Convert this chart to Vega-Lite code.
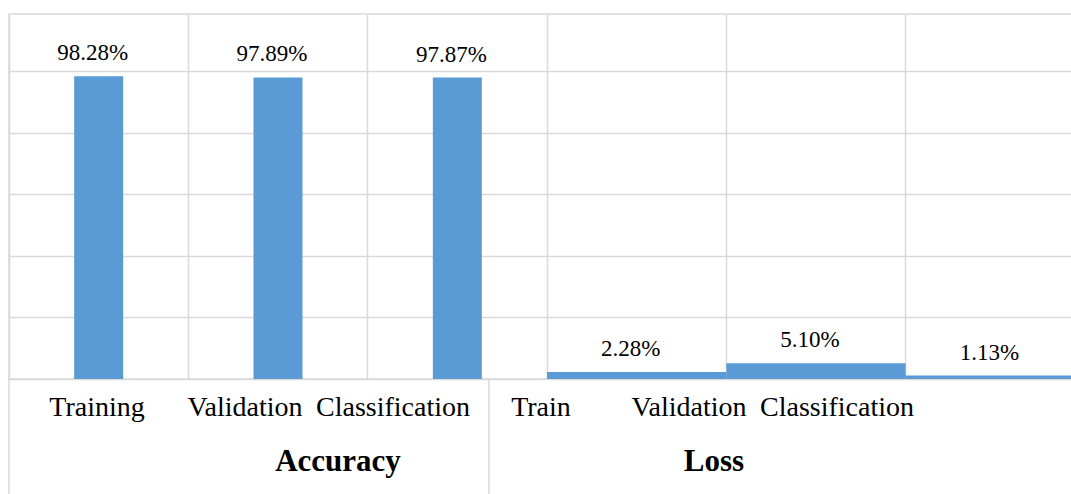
{
  "$schema": "https://vega.github.io/schema/vega-lite/v6.json",
  "background": "white",
  "padding": {"left": 8, "top": 13, "right": 0, "bottom": 0},
  "spacing": 0,
  "bounds": "flush",
  "config": {
    "font": "Liberation Serif",
    "axis": {"gridColor": "#d9d9d9", "gridWidth": 1.5, "domainColor": "#d9d9d9", "domainWidth": 1.5},
    "text": {"color": "#000000", "font": "Liberation Serif"}
  },
  "data": {
    "values": [
      {"group": "Accuracy", "label": "Training", "key": "Accuracy Training", "value": 0.9828},
      {"group": "Accuracy", "label": "Validation", "key": "Accuracy Validation", "value": 0.9789},
      {"group": "Accuracy", "label": "Classification", "key": "Accuracy Classification", "value": 0.9787},
      {"group": "Loss", "label": "Train", "key": "Loss Train", "value": 0.0228},
      {"group": "Loss", "label": "Validation", "key": "Loss Validation", "value": 0.051},
      {"group": "Loss", "label": "Classification", "key": "Loss Classification", "value": 0.0113}
    ]
  },
  "vconcat": [
    {
      "width": 1063,
      "height": 365,
      "view": {"stroke": "#d9d9d9", "strokeWidth": 1.5},
      "encoding": {
        "x": {
          "field": "key",
          "type": "nominal",
          "sort": null,
          "scale": {"range": [0, 1076], "paddingInner": 0, "paddingOuter": 0},
          "axis": {"title": null, "labels": false, "ticks": false, "grid": true, "bandPosition": 0, "domain": true}
        },
        "y": {
          "field": "value",
          "type": "quantitative",
          "scale": {"domain": [0, 1.185], "nice": false},
          "axis": {"title": null, "labels": false, "ticks": false, "domain": false, "grid": true, "values": [0.2, 0.4, 0.6, 0.8, 1.0]}
        }
      },
      "layer": [
        {
          "transform": [{"filter": "datum.group === 'Accuracy'"}],
          "mark": {"type": "bar", "width": 49, "color": "#5b9bd5"}
        },
        {
          "transform": [{"filter": "datum.group === 'Loss'"}],
          "mark": {"type": "bar", "width": {"band": 1}, "color": "#5b9bd5"}
        },
        {
          "mark": {"type": "text", "dx": -6, "dy": -23, "fontSize": 23, "baseline": "middle", "font": "Liberation Serif"},
          "encoding": {"text": {"field": "value", "format": ".2%"}}
        }
      ]
    },
    {
      "width": 1063,
      "height": 58,
      "view": {"stroke": null},
      "resolve": {"scale": {"x": "independent"}},
      "layer": [
        {
          "transform": [{"aggregate": [{"op": "count", "as": "n"}], "groupby": ["group"]}],
          "mark": {"type": "rule", "color": "#d9d9d9", "strokeWidth": 1.5},
          "encoding": {
            "x": {"field": "group", "type": "nominal", "bandPosition": 0,
                  "scale": {"type": "band", "range": [0, 960], "paddingInner": 0, "paddingOuter": 0}, "axis": null}
          }
        },
        {
          "mark": {"type": "text", "fontSize": 28, "baseline": "middle", "font": "Liberation Serif"},
          "encoding": {
            "x": {"field": "key", "type": "nominal", "sort": null,
                  "scale": {"type": "point", "range": [88, 828], "padding": 0}, "axis": null},
            "text": {"field": "label"}
          }
        }
      ]
    },
    {
      "width": 1063,
      "height": 58,
      "view": {"stroke": null},
      "resolve": {"scale": {"x": "independent"}},
      "transform": [{"aggregate": [{"op": "count", "as": "n"}], "groupby": ["group"]}],
      "layer": [
        {
          "mark": {"type": "rule", "color": "#d9d9d9", "strokeWidth": 1.5},
          "encoding": {
            "x": {"field": "group", "type": "nominal", "bandPosition": 0,
                  "scale": {"type": "band", "range": [0, 960], "paddingInner": 0, "paddingOuter": 0}, "axis": null}
          }
        },
        {
          "mark": {"type": "text", "fontSize": 31, "fontWeight": "bold", "baseline": "middle", "dy": -4, "font": "Liberation Serif"},
          "encoding": {
            "x": {"field": "group", "type": "nominal",
                  "scale": {"type": "point", "range": [329, 705], "padding": 0}, "axis": null},
            "text": {"field": "group"}
          }
        }
      ]
    }
  ]
}
